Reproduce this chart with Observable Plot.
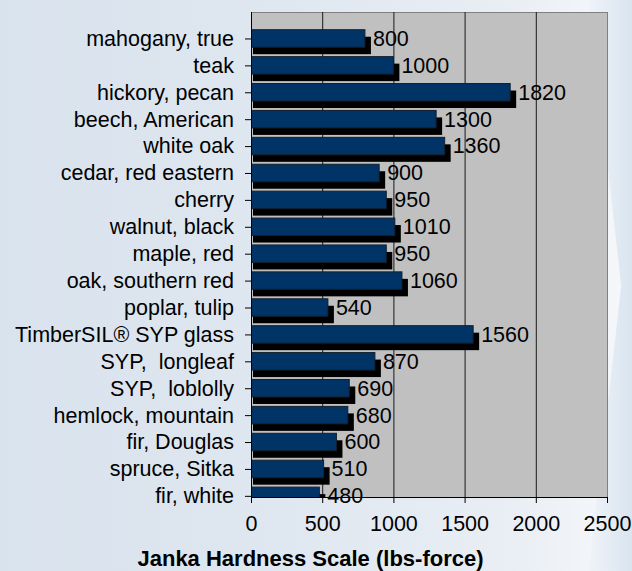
<!DOCTYPE html>
<html>
<head>
<meta charset="utf-8">
<script src="https://cdn.jsdelivr.net/npm/d3@7"></script>
<script src="https://cdn.jsdelivr.net/npm/@observablehq/plot@0.6"></script>
<style>
  html, body { margin: 0; padding: 0; }
  body {
    width: 632px; height: 571px; overflow: hidden; position: relative;
    background: linear-gradient(90deg, #d9e3ed 0%, #dfe7f0 45%, #e9eef4 80%, #f6f8fb 100%);
    font-family: "Liberation Sans", Arial, sans-serif;
  }
  #chevron {
    position: absolute; left: 560px; top: 0; width: 72px; height: 571px;
    background: linear-gradient(90deg, rgba(255,255,255,0.9), rgba(214,226,238,0.9));
    clip-path: polygon(40% 0%, 100% 0%, 100% 100%, 40% 100%, 85% 50%);
  }
  #chart { position: relative; }
  svg text { white-space: pre; }
  #xtitle {
    position: relative; text-align: center; font-weight: bold; font-size: 22px;
    line-height: 24px; padding-top: 7px; padding-right: 11px; color: #000;
  }
</style>
</head>
<body>
<div id="chevron"></div>
<div id="chart"></div>
<div id="xtitle">Janka Hardness Scale (lbs-force)</div>
<script>
const species = [
  "mahogany, true", "teak", "hickory, pecan", "beech, American", "white oak",
  "cedar, red eastern", "cherry", "walnut, black", "maple, red", "oak, southern red",
  "poplar, tulip", "TimberSIL® SYP glass", "SYP,  longleaf", "SYP,  loblolly",
  "hemlock, mountain", "fir, Douglas", "spruce, Sitka", "fir, white"
];
const hardness = [800, 1000, 1820, 1300, 1360, 900, 950, 1010, 950, 1060, 540, 1560, 870, 690, 680, 600, 510, 480];
const xTicks = [0, 500, 1000, 1500, 2000, 2500];
const gridValues = [500, 1000, 1500, 2000];

const data = species.map((s, i) => ({species: s, hardness: hardness[i]}));

const chart = Plot.plot({
  width: 632,
  height: 540,
  marginLeft: 251,
  marginRight: 25,
  marginTop: 12,
  marginBottom: 43,
  style: {
    fontFamily: "'Liberation Sans', Arial, sans-serif",
    fontSize: "21.5px",
    color: "#000",
    background: "transparent",
    overflow: "visible"
  },
  x: {domain: [0, 2500], ticks: xTicks, tickFormat: d => String(d), tickSize: 6, tickPadding: 12, label: null},
  y: {domain: species, padding: 0.35, round: false, insetTop: 8.3, insetBottom: -17, tickSize: 6, tickPadding: 11.5, label: null},
  marks: [
    Plot.frame({fill: "#c0c0c0", stroke: "#808080"}),
    Plot.ruleX(gridValues, {stroke: "#1a1a1a"}),
    Plot.barX(data, {y: "species", x: "hardness", fill: "#000", dx: 6, dy: 7, insetLeft: -4, clip: true}),
    Plot.barX(data, {y: "species", x: "hardness", fill: "#003366", stroke: "#13202d", strokeWidth: 1, clip: true}),
    Plot.text(data, {y: "species", x: "hardness", text: d => String(d.hardness), textAnchor: "start", dx: 7.5, fill: "#000"}),
    Plot.frame({anchor: "left", stroke: "#000"}),
    Plot.frame({anchor: "bottom", stroke: "#000"})
  ]
});
document.getElementById("chart").appendChild(chart);
</script>
</body>
</html>
